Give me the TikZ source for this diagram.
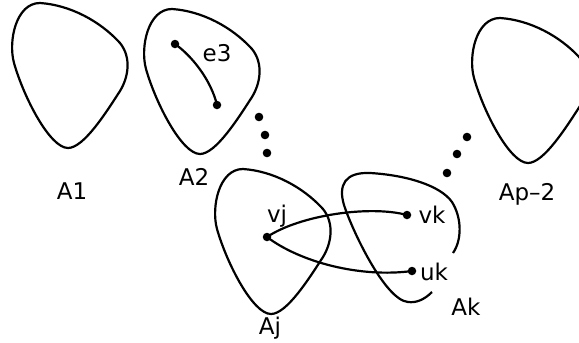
\documentclass[tikz,border=0pt]{standalone}
\usepackage{fontspec}
\setmainfont{DejaVu Sans}
\usetikzlibrary{arrows.meta,positioning}

\begin{document}
\begin{tikzpicture}[font=\fontsize{23}{27}\selectfont,>=Stealth,x=1pt,y=-1pt]
\tikzset{blob/.style={line width=2.2pt,draw=black},
edge/.style={line width=2.2pt,draw=black},
vtx/.style={circle,fill=black,inner sep=0pt,minimum size=8.5pt},
lbl/.style={anchor=base,inner sep=0pt}}
\useasboundingbox (0,0) rectangle (579,343);
\begin{scope}
\clip (0,0) rectangle (579,343);
\foreach \dx/\dy in {12/3,144/9,215/169,472/18}{
\draw[blob,shift={(\dx,\dy)}] (28,0) .. controls (58,2) and (88,18) .. (108,40)
 .. controls (120,55) and (116,75) .. (108,88)
 .. controls (95,108) and (72,145) .. (56,145)
 .. controls (38,145) and (12,95) .. (2,60)
 .. controls (-4,38) and (4,0) .. cycle;}
\end{scope}
\draw[blob] (432,292) .. controls (424,300) and (416,303) .. (408,302)
 .. controls (385,300) and (352,230) .. (344,205)
 .. controls (338,185) and (345,172) .. (370,173)
 .. controls (405,175) and (440,185) .. (452,202)
 .. controls (462,218) and (462,240) .. (453,253);
\foreach \x/\y in {259/117,265/135,267/153,467/137,457/154,447/173}{\fill (\x,\y) circle (4.3);}
\node[vtx] (a) at (175,44){};
\node[vtx] (b) at (217,105){};
\node[vtx] (vj) at (267,237){};
\node[vtx] (vk) at (407,215){};
\node[vtx] (uk) at (412,271){};
\draw[edge] (a.center) .. controls (192,56) and (211,80) .. (b.center);
\draw[edge] (vj.center) .. controls (300,215) and (370,205) .. (vk.center);
\draw[edge] (vj.center) .. controls (300,262) and (360,278) .. (uk.center);
\node[lbl] (e3) at (217,61){e3};
\node[lbl] (lvj) at (277,222){vj};
\node[lbl] (lvk) at (432,223){vk};
\node[lbl] (luk) at (434,280){uk};
\node[lbl] (A1) at (72,199){A1};
\node[lbl] (A2) at (194,185){A2};
\node[lbl] (Aj) at (270,334){Aj};
\node[lbl] (Ak) at (466,315){Ak};
\node[lbl] (Ap) at (527,200){Ap–2};
\end{tikzpicture}
\end{document}
